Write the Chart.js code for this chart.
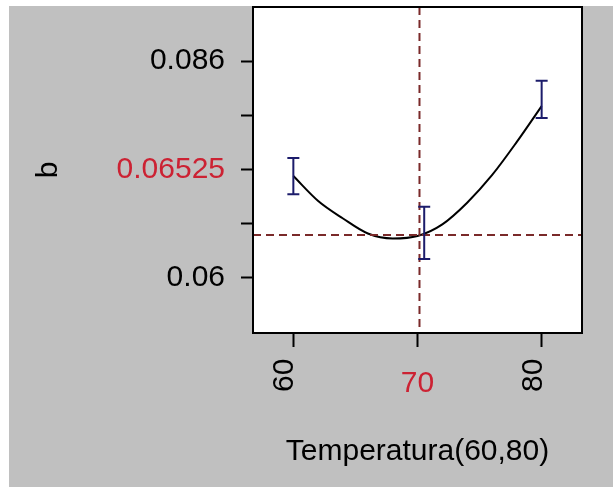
<!DOCTYPE html>
<html>
<head>
<meta charset="utf-8">
<script src="https://cdn.jsdelivr.net/npm/chart.js@4"></script>
<style>
  html, body { margin: 0; padding: 0; background: #fff; }
  #wrap { position: absolute; left: 9px; top: 6px; width: 604px; height: 481px; }
  canvas { background: #c0c0c0; }
</style>
</head>
<body>
<div id="wrap"><canvas id="profiler" width="604" height="481"></canvas></div>
<script>
// prediction curve b vs Temperatura
const curveX = [60, 62, 64, 66, 68, 70, 72, 74, 76, 78, 80];
const curveY = [0.0722, 0.0692, 0.0671, 0.0653, 0.0647, 0.0650, 0.0664, 0.0690, 0.0723, 0.0763, 0.0806];

// confidence bars
const errX = [60, 70.54, 80];
const errLow = [0.0700, 0.06224, 0.07917];
const errHigh = [0.07437, 0.06852, 0.08365];

// current setting (dashed cross)
const currentX = 70.16;
const currentY = 0.06512;

// axis ticks
const xTicks = [60, 70, 80];
const xTickLabels = ['60', '70', '80'];
const yTicks = [0.06, 0.0665, 0.073, 0.0795, 0.086];
const yTickLabels = ['0.06', '', '0.06525', '', '0.086'];

const RED = '#cc2233';
const FONT = 'Liberation Sans, Arial, sans-serif';

const profilerPlugin = {
  id: 'profiler',
  beforeDatasetsDraw(chart) {
    const { ctx, chartArea: a } = chart;
    ctx.save();
    ctx.fillStyle = '#fff';
    ctx.fillRect(a.left, a.top, a.right - a.left, a.bottom - a.top);
    ctx.restore();
  },
  afterDatasetsDraw(chart) {
    const { ctx, chartArea: a, scales: { x, y } } = chart;
    ctx.save();

    // dashed cross
    ctx.strokeStyle = '#7a2a2a';
    ctx.lineWidth = 2;
    ctx.setLineDash([8, 5]);
    const cx = x.getPixelForValue(currentX);
    const cy = y.getPixelForValue(currentY);
    ctx.beginPath();
    ctx.moveTo(cx, a.top);
    ctx.lineTo(cx, a.bottom);
    ctx.moveTo(a.left, cy);
    ctx.lineTo(a.right, cy);
    ctx.stroke();
    ctx.setLineDash([]);

    // error bars
    ctx.strokeStyle = '#1c1c6b';
    ctx.lineWidth = 2;
    errX.forEach((v, i) => {
      const px = x.getPixelForValue(v);
      const lo = y.getPixelForValue(errLow[i]);
      const hi = y.getPixelForValue(errHigh[i]);
      ctx.beginPath();
      ctx.moveTo(px, lo);
      ctx.lineTo(px, hi);
      ctx.moveTo(px - 6, lo);
      ctx.lineTo(px + 6, lo);
      ctx.moveTo(px - 6, hi);
      ctx.lineTo(px + 6, hi);
      ctx.stroke();
    });

    // frame
    ctx.strokeStyle = '#000';
    ctx.lineWidth = 2;
    ctx.strokeRect(a.left, a.top, a.right - a.left, a.bottom - a.top);
    ctx.restore();
  },
  afterDraw(chart) {
    const { ctx, scales: { x } } = chart;
    ctx.save();
    ctx.font = '30px ' + FONT;
    ctx.textBaseline = 'alphabetic';
    const baseY = 386;
    xTicks.forEach((v, i) => {
      const px = x.getPixelForValue(v);
      if (v === 70) {
        ctx.fillStyle = RED;
        ctx.textAlign = 'center';
        ctx.fillText(xTickLabels[i], px, baseY);
      } else {
        ctx.fillStyle = '#000';
        ctx.textAlign = 'left';
        ctx.save();
        ctx.translate(px, baseY);
        ctx.rotate(-Math.PI / 2);
        ctx.fillText(xTickLabels[i], 0, 0);
        ctx.restore();
      }
    });
    ctx.restore();
  }
};

new Chart(document.getElementById('profiler'), {
  type: 'scatter',
  data: {
    datasets: [{
      data: curveX.map((v, i) => ({ x: v, y: curveY[i] })),
      showLine: true,
      borderColor: '#000',
      borderWidth: 2,
      pointRadius: 0,
      cubicInterpolationMode: 'monotone'
    }]
  },
  options: {
    responsive: false,
    animation: false,
    layout: { padding: { left: 0, top: 1, right: 31, bottom: 0 } },
    plugins: { legend: { display: false }, tooltip: { enabled: false } },
    scales: {
      x: {
        type: 'linear',
        min: 56.75,
        max: 83.25,
        afterBuildTicks: (scale) => { scale.ticks = xTicks.map(v => ({ value: v })); },
        afterFit: (scale) => {
          scale.height = 154;
          scale.paddingLeft = 0;
          scale.paddingRight = 0;
        },
        ticks: { display: false },
        grid: { drawOnChartArea: false, drawTicks: true, tickLength: 14, tickColor: '#000', tickWidth: 2 },
        border: { display: false },
        title: {
          display: true,
          text: 'Temperatura(60,80)',
          color: '#000',
          font: { family: FONT, size: 30 },
          padding: { top: 0, bottom: 17 }
        }
      },
      y: {
        min: 0.05335,
        max: 0.0925,
        afterBuildTicks: (scale) => { scale.ticks = yTicks.map(v => ({ value: v })); },
        afterFit: (scale) => {
          scale.width = 244;
          scale.paddingTop = 0;
          scale.paddingBottom = 0;
        },
        ticks: {
          autoSkip: false,
          padding: 16,
          font: { family: FONT, size: 30 },
          color: (c) => (c.index === 2 ? RED : '#000'),
          callback: (v, i) => yTickLabels[i]
        },
        grid: { drawOnChartArea: false, drawTicks: true, tickLength: 12, tickColor: '#000', tickWidth: 2 },
        border: { display: false },
        title: {
          display: true,
          text: 'b',
          color: '#000',
          font: { family: FONT, size: 30 },
          padding: { top: 22, bottom: 0 }
        }
      }
    }
  },
  plugins: [profilerPlugin]
});
</script>
</body>
</html>
